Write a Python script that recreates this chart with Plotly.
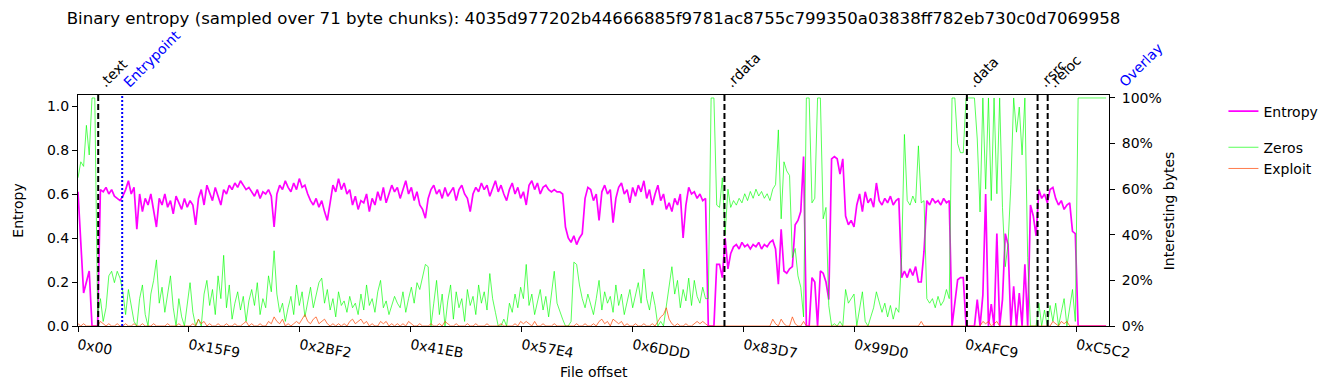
import plotly.graph_objects as go

TITLE = "Binary entropy (sampled over 71 byte chunks): 4035d977202b44666885f9781ac8755c799350a03838ff782eb730c0d7069958"
STEP = 142          # bytes between plotted samples (2 chunks of 71 bytes)
XMAX = 52260        # end of plotted offsets

tick_vals = [0, 5625, 11250, 16875, 22500, 28125, 33751, 39376, 45001, 50626]
tick_text = ["0x00", "0x15F9", "0x2BF2", "0x41EB", "0x57E4", "0x6DDD", "0x83D7", "0x99D0", "0xAFC9", "0xC5C2"]

section_names = [".text", ".rdata", ".data", ".rsrc", ".reloc"]
section_offsets = [0x400, 0x8000, 0xB000, 0xBE00, 0xC000]
entrypoint_offset = 0x8C0
overlay_offset = 0xCE00

entropy = [
    0.61, 0.40, 0.15, 0.20, 0.25, 0.0, 0.0, 0.0,
    0.62, 0.61, 0.63, 0.60, 0.62, 0.59, 0.58, 0.57, 0.59,
    0.62, 0.66, 0.60, 0.63, 0.44,
    0.60, 0.52, 0.58, 0.55, 0.60, 0.53, 0.45,
    0.58, 0.55, 0.60, 0.54, 0.57, 0.51, 0.59, 0.56, 0.53, 0.58, 0.54, 0.57, 0.55, 0.46,
    0.58, 0.62, 0.55, 0.64, 0.60, 0.57, 0.63, 0.59, 0.55, 0.62, 0.60, 0.64, 0.62,
    0.65, 0.63, 0.66, 0.64, 0.62, 0.63, 0.61,
    0.59, 0.62, 0.58, 0.61, 0.60, 0.62, 0.59, 0.45,
    0.60, 0.64, 0.62, 0.66, 0.63, 0.61, 0.65, 0.62, 0.67, 0.63, 0.64, 0.60,
    0.57, 0.55, 0.58, 0.54, 0.57, 0.52, 0.48, 0.56,
    0.64, 0.61, 0.67, 0.62, 0.65, 0.60, 0.62,
    0.55, 0.59, 0.53, 0.57, 0.56, 0.60, 0.52, 0.58, 0.55, 0.61, 0.57, 0.63, 0.56, 0.60, 0.64, 0.61, 0.63,
    0.58, 0.62,
    0.66, 0.60, 0.63, 0.57, 0.61, 0.55, 0.53, 0.49, 0.58, 0.62,
    0.64, 0.60, 0.62, 0.58, 0.63, 0.59, 0.61, 0.63, 0.57, 0.62, 0.64, 0.60, 0.58, 0.52, 0.60, 0.63, 0.61,
    0.65, 0.62, 0.64, 0.59, 0.63, 0.66, 0.61, 0.64, 0.60, 0.57, 0.62, 0.65, 0.60, 0.63, 0.58, 0.61, 0.55,
    0.64, 0.66, 0.62, 0.65, 0.60, 0.63, 0.64, 0.62, 0.61, 0.62, 0.61, 0.61, 0.60,
    0.45, 0.40, 0.38, 0.41, 0.37, 0.40, 0.42,
    0.58, 0.63, 0.62, 0.57, 0.60, 0.48, 0.61, 0.64, 0.60, 0.62, 0.47, 0.58, 0.63,
    0.65, 0.60, 0.62, 0.56, 0.63, 0.59, 0.64, 0.61, 0.66, 0.58, 0.62, 0.55, 0.60, 0.64, 0.57, 0.60,
    0.53, 0.56, 0.52, 0.58, 0.55, 0.60, 0.40,
    0.55, 0.63, 0.60, 0.61, 0.58, 0.60, 0.57, 0.58,
    0.0, 0.0, 0.0,
    0.28, 0.28, 0.22, 0.40, 0.26, 0.33,
    0.36, 0.37, 0.35, 0.38, 0.36, 0.37, 0.35, 0.37, 0.36, 0.38, 0.35, 0.37, 0.36, 0.38, 0.39,
    0.35, 0.19, 0.44, 0.25, 0.24, 0.26, 0.27, 0.46, 0.48, 0.52, 0.77,
    0.0, 0.0, 0.22, 0.20, 0.0, 0.25, 0.24, 0.20, 0.12,
    0.76, 0.77, 0.76, 0.69, 0.76,
    0.50, 0.46, 0.48, 0.45,
    0.55, 0.60, 0.52, 0.61, 0.56, 0.58, 0.54, 0.65, 0.57, 0.55, 0.58, 0.56, 0.59, 0.55, 0.57, 0.58,
    0.22, 0.25, 0.22, 0.26, 0.23, 0.27, 0.20, 0.20, 0.34,
    0.57, 0.55, 0.58, 0.56, 0.57, 0.55, 0.58, 0.56, 0.57,
    0.0, 0.10, 0.21, 0.22, 0.22,
    0.0, 0.0, 0.0, 0.0,
    0.12, 0.0, 0.14, 0.60, 0.0, 0.10, 0.0, 0.42, 0.0, 0.12, 0.42, 0.37, 0.0, 0.18, 0.0, 0.15,
    0.0, 0.28, 0.0, 0.55, 0.50, 0.41,
    0.62, 0.58, 0.60, 0.56, 0.62, 0.63,
    0.58, 0.55, 0.57, 0.53, 0.55, 0.56, 0.43, 0.42,
    0.0, 0.0, 0.0, 0.0, 0.0, 0.0, 0.0, 0.0, 0.0, 0.0, 0.0,
]

zeros = [
    0.65, 0.72, 0.70, 0.88, 0.75, 1.0, 1.0, 0.05,
    0.12, 0.02, 0.08, 0.22, 0.24, 0.19, 0.24, 0.21, 0.15,
    0.05, 0.16, 0.09, 0.02, 0.0, 0.12, 0.18, 0.05, 0.0, 0.14, 0.20, 0.29, 0.10, 0.17,
    0.06, 0.15, 0.22, 0.08, 0.0, 0.12, 0.04, 0.0, 0.10, 0.19, 0.06, 0.0, 0.03, 0.0, 0.14,
    0.20, 0.09, 0.16, 0.05, 0.22, 0.12, 0.31, 0.08, 0.18, 0.03, 0.10, 0.15, 0.07, 0.13, 0.02,
    0.11, 0.16, 0.09, 0.19, 0.05, 0.12, 0.08, 0.22, 0.15, 0.33, 0.14, 0.06, 0.10, 0.02, 0.08,
    0.13, 0.05, 0.18, 0.09, 0.15, 0.04, 0.11, 0.17, 0.08, 0.14, 0.19, 0.21, 0.10, 0.16, 0.07,
    0.12, 0.04, 0.15, 0.09, 0.11, 0.06, 0.13, 0.08, 0.10, 0.05, 0.14, 0.07, 0.18, 0.09, 0.12,
    0.06, 0.15, 0.20, 0.08, 0.11, 0.05, 0.09, 0.13, 0.10,
    0.08, 0.15, 0.06, 0.12, 0.17, 0.10, 0.19, 0.16, 0.22, 0.27, 0.26, 0.0,
    0.10, 0.20, 0.05, 0.14, 0.0, 0.11, 0.18, 0.03, 0.15, 0.08, 0.12, 0.02, 0.16, 0.09,
    0.13, 0.05, 0.18, 0.10, 0.15, 0.07, 0.23, 0.12, 0.06, 0.0, 0.0, 0.03, 0.0,
    0.10, 0.06, 0.14, 0.08, 0.17, 0.12, 0.27, 0.09, 0.14, 0.05, 0.11, 0.16, 0.07, 0.13, 0.04,
    0.15, 0.24, 0.10, 0.06, 0.03, 0.0, 0.0, 0.02, 0.28, 0.27, 0.18, 0.12,
    0.08, 0.14, 0.10, 0.05, 0.12, 0.20, 0.07, 0.15, 0.10, 0.13, 0.06, 0.18, 0.09, 0.14, 0.05,
    0.11, 0.16, 0.08, 0.13, 0.19, 0.10, 0.25, 0.12, 0.07, 0.15, 0.09, 0.0, 0.02, 0.0, 0.08,
    0.17, 0.26, 0.14, 0.20, 0.08, 0.16, 0.11, 0.21, 0.09, 0.20, 0.13, 0.10, 0.17, 0.12,
    0.12, 1.0, 1.0, 0.53, 0.52, 0.65, 0.40, 0.60, 0.52,
    0.55, 0.53, 0.56, 0.54, 0.58, 0.55, 0.59, 0.56, 0.60, 0.57, 0.59, 0.56, 0.58, 0.55, 0.60,
    0.62, 0.86, 0.47, 0.72, 0.68, 0.66, 0.30, 0.34, 0.22, 0.17, 0.04,
    1.0, 1.0, 0.54, 0.56, 1.0, 1.0, 0.47, 0.52, 0.09,
    0.0, 0.01, 0.0, 0.02, 0.0,
    0.16, 0.10, 0.12, 0.14, 0.0, 0.07, 0.15, 0.02, 0.0, 0.04, 0.08, 0.15, 0.11, 0.06, 0.10,
    0.04, 0.09, 0.03, 0.08, 0.06,
    0.30, 0.84, 0.55, 0.53, 0.57, 0.54, 0.79, 0.54, 0.55, 0.12,
    0.10, 0.12, 0.08, 0.13, 0.09, 0.11, 0.16, 0.12,
    1.0, 1.0, 0.80, 0.76, 0.76,
    1.0, 1.0, 1.0, 1.0,
    0.82, 0.50, 1.0, 0.60, 1.0, 0.55, 1.0, 0.58, 1.0, 0.52, 0.26, 0.36, 0.62, 1.0, 0.85, 0.96,
    0.75, 1.0, 0.30,
    0.0, 0.0, 0.0,
    0.10, 0.0, 0.07, 0.0, 0.09, 0.02, 0.10, 0.0, 0.06, 0.12, 0.0, 0.08, 0.16, 0.02,
    1.0, 1.0, 1.0, 1.0, 1.0, 1.0, 1.0, 1.0, 1.0, 1.0, 1.0,
]

exploit = [
    0.01, 0, 0.01, 0, 0, 0, 0, 0, 0.02, 0.01, 0, 0.01, 0, 0, 0.01, 0, 0, 0.01, 0, 0,
    0.01, 0, 0, 0.01, 0, 0, 0, 0.01, 0, 0, 0, 0, 0.01, 0, 0, 0, 0.01, 0, 0, 0,
    0, 0.01, 0, 0.03, 0.01, 0.02, 0, 0.01, 0, 0, 0.01, 0, 0, 0.01, 0, 0, 0.01, 0, 0, 0.01,
    0.02, 0, 0.01, 0, 0, 0.01, 0, 0, 0.02, 0.01, 0.04, 0.02, 0.01, 0.03, 0, 0.01, 0, 0.01, 0.02, 0.01,
    0.03, 0.05, 0.02, 0.01, 0.03, 0.04, 0.01, 0.02, 0.03, 0.01, 0, 0.01, 0, 0.01, 0, 0.01, 0, 0.02, 0.03, 0.01,
    0.02, 0.03, 0.01, 0.02, 0, 0.01, 0, 0, 0.02, 0.01, 0.02, 0, 0.01, 0, 0.01, 0, 0.01, 0, 0.02, 0.01,
    0, 0, 0.01, 0, 0, 0, 0.01, 0, 0, 0.01, 0, 0.02, 0.01, 0, 0, 0.01, 0, 0, 0, 0.01,
    0, 0, 0.01, 0, 0, 0, 0.01, 0, 0, 0, 0, 0.01, 0, 0, 0, 0, 0.01, 0, 0.02, 0.01,
    0.02, 0.01, 0, 0.02, 0, 0, 0.01, 0, 0, 0, 0.01, 0, 0, 0, 0, 0, 0, 0, 0.01, 0,
    0, 0.01, 0, 0, 0.01, 0, 0.02, 0.03, 0.01, 0.02, 0, 0.03, 0.02, 0.01, 0.02, 0, 0.01, 0, 0, 0.01,
    0, 0, 0.01, 0, 0, 0.01, 0, 0.02, 0.04, 0.05, 0.08, 0.03, 0.01, 0, 0.01, 0, 0, 0.01, 0, 0,
    0.01, 0.02, 0.01, 0.02, 0.01, 0, 0, 0, 0, 0, 0, 0, 0, 0, 0, 0, 0, 0, 0, 0,
    0, 0, 0, 0, 0, 0, 0, 0, 0.03, 0.01, 0, 0.03, 0.01, 0, 0, 0.04, 0.01, 0, 0, 0.02,
    0, 0, 0, 0, 0, 0, 0, 0, 0, 0, 0, 0, 0, 0, 0, 0, 0, 0, 0, 0,
    0, 0, 0, 0, 0, 0, 0, 0, 0, 0, 0, 0, 0, 0, 0, 0, 0, 0, 0, 0,
    0, 0.02, 0, 0, 0, 0, 0, 0, 0, 0, 0, 0, 0, 0, 0, 0, 0, 0, 0, 0,
    0, 0, 0, 0.02, 0.01, 0.02, 0, 0.01, 0.02, 0, 0, 0, 0, 0, 0, 0, 0, 0, 0, 0,
    0, 0, 0, 0, 0, 0, 0, 0, 0.02, 0.01, 0, 0.02, 0.01, 0.02, 0, 0, 0, 0, 0, 0,
    0, 0, 0, 0, 0, 0, 0, 0,
]

FONT = "DejaVu Sans"

def offsets(series):
    return [i * STEP for i in range(len(series))]

fig = go.Figure()
fig.add_trace(go.Scatter(x=offsets(entropy), y=entropy, mode="lines", name="Entropy",
                         line=dict(color="#ff00ff", width=1.7), legendgroup="a", yaxis="y"))
fig.add_trace(go.Scatter(x=offsets(zeros), y=zeros, mode="lines", name="Zeros",
                         line=dict(color="rgba(0,255,0,0.65)", width=1), legendgroup="b", yaxis="y2"))
fig.add_trace(go.Scatter(x=offsets(exploit), y=exploit, mode="lines", name="Exploit",
                         line=dict(color="rgba(255,69,0,0.7)", width=1), legendgroup="b", yaxis="y2"))

LABEL_SHIFT = -5
shapes = []
annotations = []
for name, off in zip(section_names, section_offsets):
    shapes.append(dict(type="line", xref="x", yref="paper", x0=off, x1=off, y0=0, y1=1,
                       line=dict(color="black", width=2, dash="6px,3px"), layer="above"))
    annotations.append(dict(text=name, xref="paper", yref="paper", x=off / XMAX, y=1,
                            xanchor="left", yanchor="bottom", textangle=-45, showarrow=False,
                            font=dict(family=FONT, size=14, color="black"), xshift=LABEL_SHIFT, yshift=2))
shapes.append(dict(type="line", xref="x", yref="paper", x0=entrypoint_offset, x1=entrypoint_offset,
                   y0=0, y1=1, line=dict(color="blue", width=2, dash="2px,2px"), layer="above"))
annotations.append(dict(text="Entrypoint", xref="paper", yref="paper", x=entrypoint_offset / XMAX, y=1,
                        xanchor="left", yanchor="bottom", textangle=-45, showarrow=False,
                        font=dict(family=FONT, size=14, color="blue"), xshift=LABEL_SHIFT, yshift=2))
annotations.append(dict(text="Overlay", xref="paper", yref="paper", x=overlay_offset / XMAX, y=1,
                        xanchor="left", yanchor="bottom", textangle=-45, showarrow=False,
                        font=dict(family=FONT, size=14, color="blue"), xshift=LABEL_SHIFT, yshift=2))

annotations.append(dict(text="Entropy", xref="paper", yref="paper", x=-0.059, y=0.5,
                        xanchor="center", yanchor="middle", textangle=-90, showarrow=False,
                        font=dict(family=FONT, size=14, color="black")))
annotations.append(dict(text="Interesting bytes", xref="paper", yref="paper", x=1.058, y=0.5,
                        xanchor="center", yanchor="middle", textangle=-90, showarrow=False,
                        font=dict(family=FONT, size=14, color="black")))
annotations.append(dict(text="File offset", xref="paper", yref="paper", x=0.5, y=-0.199,
                        xanchor="center", yanchor="middle", showarrow=False,
                        font=dict(family=FONT, size=14, color="black")))

axis_common = dict(showgrid=False, zeroline=False, showline=True, linecolor="black", linewidth=1,
                   ticks="outside", ticklen=5, tickwidth=1, tickcolor="black",
                   tickfont=dict(family=FONT, size=14, color="black"))

fig.update_layout(
    width=1335, height=390,
    margin=dict(l=78, r=223, t=95, b=64),
    paper_bgcolor="white", plot_bgcolor="white",
    font=dict(family=FONT, size=14, color="black"),
    title=dict(text=TITLE, x=0.5, xref="paper", xanchor="center", y=1 - 18 / 390, yanchor="middle",
               font=dict(family=FONT, size=16.6, color="black")),
    xaxis=dict(range=[0, XMAX], tickvals=tick_vals, ticktext=tick_text, tickangle=10,
               mirror=True, **axis_common),
    yaxis=dict(range=[0, 1.05], tickvals=[0, 0.2, 0.4, 0.6, 0.8, 1.0],
               ticktext=["0.0", "0.2", "0.4", "0.6", "0.8", "1.0"], **axis_common),
    yaxis2=dict(range=[0, 1.013], overlaying="y", side="right", tickvals=[0, 0.2, 0.4, 0.6, 0.8, 1.0],
                ticktext=["0%", "20%", "40%", "60%", "80%", "100%"], ticklabelstandoff=4, **axis_common),
    legend=dict(x=1.111, y=0.998, xanchor="left", yanchor="top", traceorder="grouped",
                tracegroupgap=15, itemwidth=30, bgcolor="rgba(0,0,0,0)",
                font=dict(family=FONT, size=14, color="black")),
    shapes=shapes,
    annotations=annotations,
)

fig.write_html("out.html", config={"displayModeBar": False},
               post_script="document.body.style.margin='0';")
